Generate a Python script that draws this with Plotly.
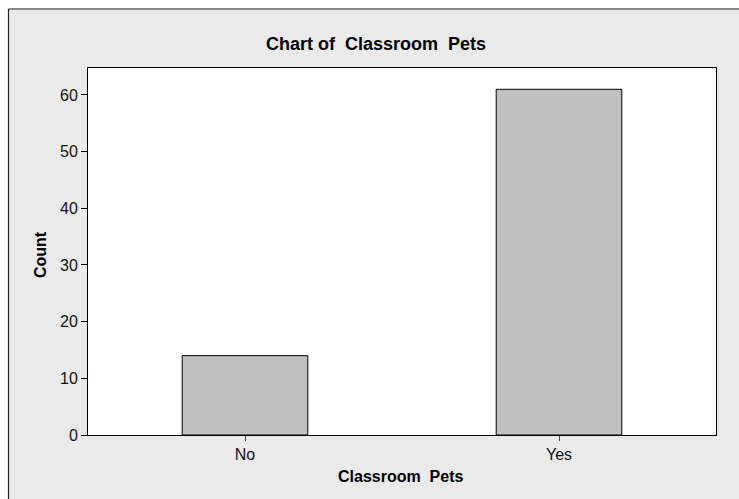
import plotly.graph_objects as go

categories = ["No", "Yes"]
counts = [14, 61]
y_ticks = [0, 10, 20, 30, 40, 50, 60]

# Page body margin is removed below, so figure pixel = page pixel
W, H = 739, 499
L, R, T, B = 88, 716, 68, 435
pw, ph = R - L, B - T

def px_x(x):
    return (x - L) / pw

def px_y(y):
    return (B - y) / ph

FONT = "Liberation Sans"
BG = "#EAEAEA"

fig = go.Figure(
    go.Bar(
        x=categories,
        y=counts,
        width=0.4,
        marker=dict(color="#C0C0C0", line=dict(color="black", width=1)),
    )
)

fig.update_layout(
    width=W,
    height=H,
    margin=dict(l=L, r=W - R, t=T, b=H - B, pad=0),
    paper_bgcolor=BG,
    plot_bgcolor="white",
    showlegend=False,
    font=dict(family=FONT, size=16, color="black"),
    xaxis=dict(
        range=[-0.5, 1.5],
        showline=True, linecolor="black", linewidth=1, mirror=True,
        ticks="outside", ticklen=5, tickcolor="#444", tickwidth=1,
        showgrid=False, zeroline=False,
        tickfont=dict(family=FONT, size=16, color="#111"),
        fixedrange=True,
    ),
    yaxis=dict(
        range=[0, 64.76],
        tickvals=y_ticks,
        showline=True, linecolor="black", linewidth=1, mirror=True,
        ticks="outside", ticklen=6, tickcolor="black", tickwidth=1,
        showgrid=False, zeroline=False,
        tickfont=dict(family=FONT, size=16, color="#111"),
        fixedrange=True,
    ),
    shapes=[
        # white strips outside the outer frame
        dict(type="rect", xref="paper", yref="paper", x0=px_x(-5), x1=px_x(W + 5),
             y0=px_y(8.5), y1=px_y(-5), fillcolor="white", line=dict(width=0), layer="above"),
        dict(type="rect", xref="paper", yref="paper", x0=px_x(-5), x1=px_x(8),
             y0=px_y(H + 5), y1=px_y(-5), fillcolor="white", line=dict(width=0), layer="above"),
        # outer frame lines (top and left)
        dict(type="line", xref="paper", yref="paper", x0=px_x(8.5), x1=px_x(W + 5),
             y0=px_y(9), y1=px_y(9), line=dict(color="#222", width=1.2), layer="above"),
        dict(type="line", xref="paper", yref="paper", x0=px_x(8.5), x1=px_x(8.5),
             y0=px_y(9), y1=px_y(H + 5), line=dict(color="#222", width=1.2), layer="above"),
    ],
    annotations=[
        dict(text="<b>Chart of  Classroom  Pets</b>", xref="paper", yref="paper",
             x=px_x(376), y=px_y(44), xanchor="center", yanchor="middle",
             showarrow=False, font=dict(family=FONT, size=18)),
        dict(text="<b>Count</b>", xref="paper", yref="paper",
             x=px_x(40), y=px_y(255), xanchor="center", yanchor="middle",
             textangle=-90, showarrow=False, font=dict(family=FONT, size=16)),
        dict(text="<b>Classroom  Pets</b>", xref="paper", yref="paper",
             x=px_x(400), y=px_y(476), xanchor="center", yanchor="middle",
             showarrow=False, font=dict(family=FONT, size=16)),
    ],
)

fig.write_html(
    "out.html",
    config={"displayModeBar": False},
    post_script="document.body.style.margin='0';document.documentElement.style.overflow='hidden';",
)
